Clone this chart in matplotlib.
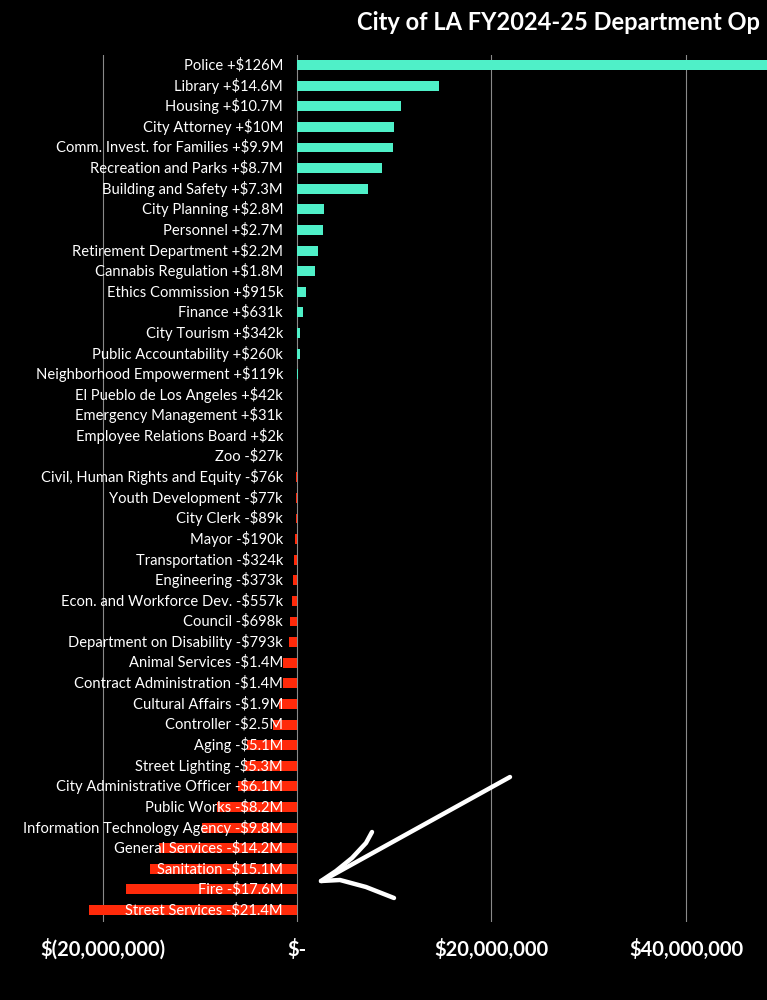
import matplotlib.pyplot as plt
import numpy as np
from matplotlib.ticker import FuncFormatter

# department budget change, FY2024-25 (dollars)
departments = [
    'Police', 'Library', 'Housing', 'City Attorney', 'Comm. Invest. for Families',
    'Recreation and Parks', 'Building and Safety', 'City Planning', 'Personnel',
    'Retirement Department', 'Cannabis Regulation', 'Ethics Commission', 'Finance',
    'City Tourism', 'Public Accountability', 'Neighborhood Empowerment',
    'El Pueblo de Los Angeles', 'Emergency Management', 'Employee Relations Board',
    'Zoo', 'Civil, Human Rights and Equity', 'Youth Development', 'City Clerk',
    'Mayor', 'Transportation', 'Engineering', 'Econ. and Workforce Dev.', 'Council',
    'Department on Disability', 'Animal Services', 'Contract Administration',
    'Cultural Affairs', 'Controller', 'Aging', 'Street Lighting',
    'City Administrative Officer', 'Public Works', 'Information Technology Agency',
    'General Services', 'Sanitation', 'Fire', 'Street Services',
]
change_labels = [
    '+$126M', '+$14.6M', '+$10.7M', '+$10M', '+$9.9M', '+$8.7M', '+$7.3M', '+$2.8M',
    '+$2.7M', '+$2.2M', '+$1.8M', '+$915k', '+$631k', '+$342k', '+$260k', '+$119k',
    '+$42k', '+$31k', '+$2k', '-$27k', '-$76k', '-$77k', '-$89k', '-$190k', '-$324k',
    '-$373k', '-$557k', '-$698k', '-$793k', '-$1.4M', '-$1.4M', '-$1.9M', '-$2.5M',
    '-$5.1M', '-$5.3M', '-$6.1M', '-$8.2M', '-$9.8M', '-$14.2M', '-$15.1M',
    '-$17.6M', '-$21.4M',
]
changes = np.array([
    126e6, 14.6e6, 10.7e6, 10e6, 9.9e6, 8.7e6, 7.3e6, 2.8e6, 2.7e6, 2.2e6, 1.8e6,
    915e3, 631e3, 342e3, 260e3, 119e3, 42e3, 31e3, 2e3, -27e3, -76e3, -77e3, -89e3,
    -190e3, -324e3, -373e3, -557e3, -698e3, -793e3, -1.4e6, -1.4e6, -1.9e6, -2.5e6,
    -5.1e6, -5.3e6, -6.1e6, -8.2e6, -9.8e6, -14.2e6, -15.1e6, -17.6e6, -21.4e6,
])
xticks = [-20e6, 0, 20e6, 40e6]

POS = '#4ff0c8'
NEG = '#ff2a0a'
FONT = ['Lato', 'DejaVu Sans']


def accounting(v, pos=None):
    if v == 0:
        return '$-'
    if v < 0:
        return '$({:,.0f})'.format(-v)
    return '${:,.0f}'.format(v)


fig = plt.figure(figsize=(7.67, 10), dpi=100, facecolor='black')
ax = fig.add_axes([0, 0.078, 1, 0.867], facecolor='black')

y = np.arange(len(departments))
colors = [POS if v >= 0 else NEG for v in changes]
ax.barh(y, changes, height=0.48, color=colors, zorder=2)

for yi, name, lab in zip(y, departments, change_labels):
    ax.annotate(name + ' ' + lab, xy=(0, yi), xytext=(-10, 0), textcoords='offset points',
                ha='right', va='center', color='white', fontsize=10.6,
                family=FONT, zorder=3)

ax.set_xlim(-30.54e6, 48.33e6)
ax.set_ylim(len(departments) - 1 + 0.58, -0.49)
ax.set_xticks(xticks)
ax.xaxis.set_major_formatter(FuncFormatter(accounting))
ax.set_yticks([])
ax.tick_params(axis='x', length=0, pad=12, colors='white', labelsize=14.5)
for t in ax.get_xticklabels():
    t.set_fontweight('bold')
    t.set_family(FONT)
ax.grid(axis='x', color='#8a8a8a', linewidth=0.8, zorder=0)
for s in ax.spines.values():
    s.set_visible(False)

# the title is cropped at the right edge in the source image
fig.text(357 / 767, 1 - 22 / 1000, 'City of LA FY2024-25 Department Op',
         color='white', fontsize=17, fontweight='bold', ha='left', va='center',
         family=FONT)


# hand-drawn arrow pointing at the biggest cuts (figure pixel coords)
def px(xs, ys):
    return [x / 767 for x in xs], [1 - v / 1000 for v in ys]


arrow_style = dict(color='white', linewidth=3.2, solid_capstyle='round', transform=fig.transFigure)
fig.add_artist(plt.Line2D(*px([510, 322], [777, 881]), **arrow_style))
fig.add_artist(plt.Line2D(*px([372, 366, 352, 336, 321], [832, 843, 858, 871, 881]), **arrow_style))
fig.add_artist(plt.Line2D(*px([321, 340, 366, 394], [881, 880, 887, 898]), **arrow_style))

fig.savefig('out.png', dpi=100, facecolor='black')
